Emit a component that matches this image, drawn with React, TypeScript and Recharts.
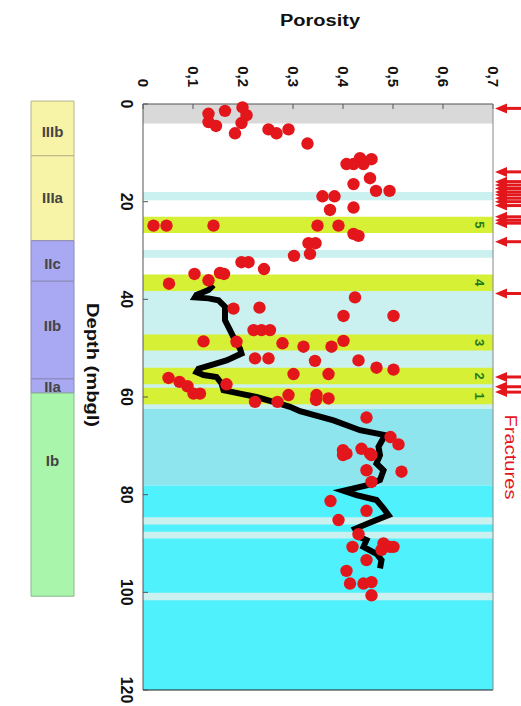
import React from 'react';
import { ComposedChart, XAxis, YAxis, Scatter, ReferenceArea, ReferenceDot } from 'recharts';

// ---------- data ----------
const porosityTicks = [0, 0.1, 0.2, 0.3, 0.4, 0.5, 0.6, 0.7];
const depthTicks = [0, 20, 40, 60, 80, 100, 120];

// measured samples: [porosity, depth (mbgl)]
const samples: [number, number][] = [
  [0.131, 2.0], [0.164, 1.4], [0.199, 0.7], [0.207, 2.3], [0.131, 3.7], [0.146, 4.5],
  [0.197, 3.9], [0.184, 6.0], [0.251, 5.2], [0.267, 6.0], [0.291, 5.2], [0.329, 8.1],
  [0.407, 12.3], [0.421, 12.3], [0.434, 11.1], [0.441, 12.3], [0.457, 11.3], [0.454, 15.2],
  [0.421, 16.4], [0.466, 17.8], [0.493, 17.8], [0.359, 18.9], [0.383, 18.9], [0.374, 21.7],
  [0.421, 21.2], [0.021, 24.9], [0.047, 24.9], [0.141, 24.9], [0.349, 24.9], [0.391, 24.9],
  [0.421, 26.6], [0.431, 27.0], [0.331, 28.5], [0.345, 28.5], [0.334, 30.7], [0.302, 31.1],
  [0.197, 32.4], [0.211, 32.4], [0.242, 33.8], [0.103, 34.8], [0.154, 34.6], [0.162, 34.8],
  [0.131, 36.1], [0.052, 36.8], [0.424, 39.6], [0.181, 41.9], [0.233, 41.7], [0.401, 43.4],
  [0.501, 43.4], [0.221, 46.3], [0.237, 46.3], [0.254, 46.3], [0.121, 48.6], [0.187, 48.7],
  [0.279, 49.0], [0.401, 48.5], [0.321, 49.7], [0.377, 49.7], [0.224, 52.1], [0.251, 52.1],
  [0.344, 52.6], [0.431, 52.5], [0.467, 54.0], [0.501, 54.4], [0.301, 55.3], [0.371, 55.3],
  [0.051, 56.1], [0.073, 56.9], [0.089, 57.8], [0.101, 59.3], [0.114, 59.3], [0.167, 57.4],
  [0.224, 61.0], [0.269, 61.0], [0.291, 59.6], [0.347, 59.6], [0.371, 60.3], [0.346, 60.6],
  [0.447, 64.2], [0.495, 68.2], [0.511, 69.7], [0.400, 70.9], [0.407, 71.6], [0.400, 71.9],
  [0.437, 70.6], [0.454, 71.6], [0.457, 71.9], [0.447, 75.0], [0.517, 75.3], [0.457, 77.4],
  [0.375, 81.3], [0.447, 83.3], [0.391, 85.2], [0.431, 88.1], [0.419, 90.7], [0.481, 90.0],
  [0.494, 90.7], [0.477, 91.3], [0.501, 90.7], [0.447, 93.4], [0.407, 95.6], [0.414, 98.2],
  [0.441, 98.2], [0.457, 97.9], [0.457, 100.6],
];

// continuous log: [porosity, depth]
const logCurve: [number, number][] = [
  [0.141, 37.1], [0.131, 38.1], [0.107, 39.1], [0.104, 39.6], [0.131, 39.8], [0.151, 40.2],
  [0.164, 41.5], [0.164, 44.3], [0.174, 46.3], [0.184, 48.4], [0.194, 50.1], [0.197, 51.1],
  [0.167, 52.5], [0.134, 53.5], [0.111, 54.2], [0.107, 54.9], [0.121, 55.5], [0.147, 55.9],
  [0.157, 57.2], [0.161, 58.6], [0.194, 59.3], [0.227, 60.0], [0.261, 61.0], [0.294, 62.0],
  [0.314, 62.9], [0.381, 64.8], [0.434, 66.8], [0.484, 67.8], [0.471, 70.2], [0.474, 71.9],
  [0.467, 73.6], [0.481, 75.0], [0.474, 77.0], [0.447, 78.1], [0.401, 79.2], [0.427, 80.1],
  [0.467, 81.1], [0.481, 82.8], [0.491, 84.2], [0.457, 85.6], [0.424, 87.0], [0.434, 88.7],
  [0.447, 89.3], [0.441, 90.7], [0.467, 92.1], [0.477, 93.4], [0.474, 95.1],
];

const fractureDepths = [0.9, 13.9, 15.9, 16.6, 17.3, 18.0, 18.6, 19.3, 20.0, 20.8, 23.1, 23.8, 24.4, 28.2, 38.8, 55.9, 57.9, 59.0];

// background intervals: [top, bottom, kind]
const intervals: [number, number, string][] = [
  [0, 4, 'gray'], [18, 19.7, 'pale'], [29.9, 31.5, 'pale'], [38.3, 62.4, 'pale'],
  [62.4, 78.1, 'mid'], [78.1, 120, 'bright'], [84.6, 86.1, 'pale'], [87.6, 89, 'pale'], [100.1, 101.6, 'pale'],
];
// numbered zones: [top, bottom, label]
const zones: [number, number, string][] = [
  [23.1, 26.4, '5'], [34.9, 38.3, '4'], [47.2, 50.5, '3'], [54, 57.4, '2'], [58.1, 61.5, '1'],
];

// stratigraphic units
const unitNames = ['IIIb', 'IIIa', 'IIc', 'IIb', 'IIa', 'Ib'];
const unitTop = [-0.6, 10.6, 28, 36.3, 56.3, 59.2];
const unitBottom = [10.6, 28, 36.3, 56.3, 59.2, 100.8];
const unitGroup = ['III', 'III', 'II', 'II', 'II', 'I'];
const unitLabelDepth = [5.7, 19.1, 32.6, 45.3, 57.9, 73];
const columnLeft = -0.224;
const columnRight = -0.138;

// ---------- styles ----------
const FONT = '"Liberation Sans", Arial, sans-serif';
const kindColor: Record<string, string> = {
  gray: '#d9d9d9', pale: '#caf0f0', mid: '#8fe5ee', bright: '#4ff1fd',
};
const zoneColor = '#d6f035';
const groupFill: Record<string, string> = { III: '#f7f3a7', II: '#a9a9f3', I: '#a9f5ab' };
const groupStroke: Record<string, string> = { III: '#b8b48a', II: '#8a8ab8', I: '#8ab88c' };
const RED = '#e3161c';

const sampleData = samples.map(([p, d]) => ({ p, d }));
const curveData = logCurve.map(([p, d]) => ({ p, d }));
const fractureData = fractureDepths.map((d) => ({ p: 0.7, d }));

const fmtP = (v: number) => (v === 0 ? '0' : v.toFixed(1).replace('.', ','));

const PorosityTick = (props: any) => {
  const { x, y, payload } = props;
  const ay = y - 20;
  return (
    <text x={x} y={ay} transform={`rotate(90 ${x} ${ay})`} textAnchor="end" dy="0.35em"
      fontFamily={FONT} fontSize={15} fontWeight="bold" fill="#111">{fmtP(payload.value)}</text>
  );
};

const DepthTick = (props: any) => {
  const { x, y, payload } = props;
  const ax = x - 19;
  return (
    <text x={ax} y={y} transform={`rotate(90 ${ax} ${y})`} textAnchor="middle" dy="0.35em"
      fontFamily={FONT} fontSize={16} fontWeight="bold" fill="#111">{payload.value}</text>
  );
};

const PorosityTitle = (props: any) => {
  const vb = props.viewBox || { x: 143, y: 74, width: 350 };
  return (
    <text x={vb.x + vb.width / 2 + 2} y={vb.y - 48} textAnchor="middle" fontFamily={FONT}
      fontSize={16} fontWeight="bold" fill="#111" textLength={80} lengthAdjust="spacingAndGlyphs">Porosity</text>
  );
};

const DepthTitle = (props: any) => {
  const vb = props.viewBox || { x: 103, y: 104 };
  const cx = vb.x - 10;
  const cy = vb.y + 261;
  return (
    <text x={cx} y={cy} transform={`rotate(90 ${cx} ${cy})`} textAnchor="middle" dy="0.35em"
      fontFamily={FONT} fontSize={16} fontWeight="bold" fill="#111" textLength={124} lengthAdjust="spacingAndGlyphs">Depth (mbgl)</text>
  );
};

const FracturesTitle = (props: any) => {
  const vb = props.viewBox || { x: 493, y: 104 };
  const cx = vb.x + 18;
  const cy = vb.y + 353;
  return (
    <text x={cx} y={cy} transform={`rotate(90 ${cx} ${cy})`} textAnchor="middle" dy="0.35em"
      fontFamily={FONT} fontSize={17} fill={RED} textLength={85} lengthAdjust="spacingAndGlyphs">Fractures</text>
  );
};

const Dot = (props: any) => {
  const { cx, cy } = props;
  if (cx == null || cy == null) return <g />;
  return <circle cx={cx} cy={cy} r={6.2} fill={RED} />;
};

const NoShape = () => <g />;

const Arrow = (props: any) => {
  const { cx, cy } = props;
  if (cx == null || cy == null) return <g />;
  const tip = cx + 2;
  return (
    <g>
      <line x1={tip + 8} y1={cy} x2={tip + 40} y2={cy} stroke={RED} strokeWidth={3} />
      <polygon points={`${tip},${cy} ${tip + 12},${cy - 5} ${tip + 12},${cy + 5}`} fill={RED} />
    </g>
  );
};

const zoneLabel = (text: string) => (props: any) => {
  const vb = props.viewBox;
  if (!vb) return null;
  const cx = vb.x + vb.width - 13;
  const cy = vb.y + vb.height / 2;
  return (
    <text x={cx} y={cy} transform={`rotate(90 ${cx} ${cy})`} textAnchor="middle" dy="0.35em"
      fontFamily={FONT} fontSize={13} fontWeight="bold" fill="#1f7a1f">{text}</text>
  );
};

export default function App() {
  return (
    <div style={{ position: 'absolute', left: 0, top: 0, width: 521, height: 706, background: '#fff' }}>
      <ComposedChart width={521} height={706} margin={{ top: 74, right: 18, bottom: 6, left: 103 }}>
        {intervals.map(([t, b, k], i) => (
          <ReferenceArea key={`iv${i}`} xAxisId="top" yAxisId="left" x1={0} x2={0.7} y1={t} y2={b}
            fill={kindColor[k]} fillOpacity={1} stroke="none" ifOverflow="visible" />
        ))}
        {zones.map(([t, b, lab], i) => (
          <ReferenceArea key={`zn${i}`} xAxisId="top" yAxisId="left" x1={0} x2={0.7} y1={t} y2={b}
            fill={zoneColor} fillOpacity={1} stroke="none" ifOverflow="visible"
            label={{ content: zoneLabel(lab) }} />
        ))}
        {unitNames.map((n, i) => (
          <ReferenceArea key={`un${i}`} xAxisId="top" yAxisId="left" x1={columnLeft} x2={columnRight}
            y1={unitTop[i]} y2={unitBottom[i]} fill={groupFill[unitGroup[i]]} fillOpacity={1}
            stroke={groupStroke[unitGroup[i]]} strokeWidth={1} ifOverflow="visible" />
        ))}
        {unitNames.map((n, i) => (
          <ReferenceDot key={`ul${i}`} xAxisId="top" yAxisId="left" x={(columnLeft + columnRight) / 2}
            y={unitLabelDepth[i]} r={0} fill="none" stroke="none" ifOverflow="visible"
            label={{ value: n, position: 'center', fill: '#444', fontSize: 15, fontWeight: 'bold', fontFamily: FONT }} />
        ))}
        <Scatter xAxisId="top" yAxisId="left" data={curveData} line={{ stroke: '#000', strokeWidth: 6 }}
          lineJointType="linear" shape={NoShape} isAnimationActive={false} />
        <Scatter xAxisId="top" yAxisId="left" data={sampleData} shape={Dot} isAnimationActive={false} />
        <Scatter xAxisId="top" yAxisId="left" data={fractureData} shape={Arrow} isAnimationActive={false} />
        <XAxis xAxisId="top" orientation="top" type="number" dataKey="p" domain={[0, 0.7]}
          ticks={porosityTicks} interval={0} tick={<PorosityTick />} tickSize={-5} height={30}
          stroke="#555" label={{ content: PorosityTitle }} />
        <XAxis xAxisId="bottom" orientation="bottom" type="number" dataKey="p" domain={[0, 0.7]}
          ticks={porosityTicks} interval={0} tick={false} tickSize={-5} height={10} stroke="#222" />
        <YAxis yAxisId="left" orientation="left" type="number" dataKey="d" domain={[0, 120]} reversed
          ticks={depthTicks} interval={0} tick={<DepthTick />} tickSize={-5} width={40}
          stroke="#555" label={{ content: DepthTitle }} />
        <YAxis yAxisId="right" orientation="right" type="number" dataKey="d" domain={[0, 120]} reversed
          ticks={depthTicks} interval={0} tick={false} tickSize={-5} width={10}
          stroke="#888" label={{ content: FracturesTitle }} />
      </ComposedChart>
    </div>
  );
}
